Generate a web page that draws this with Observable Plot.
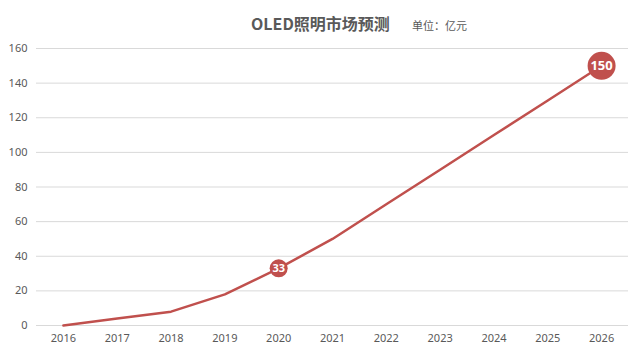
<!DOCTYPE html>
<html><head><meta charset="utf-8">
<script src="https://cdn.jsdelivr.net/npm/d3@7"></script>
<script src="https://cdn.jsdelivr.net/npm/@observablehq/plot@0.6"></script>
<style>
body{margin:0;background:#fff;font-family:"Noto Sans CJK SC","Noto Sans",sans-serif;}
#wrap{position:relative;width:640px;height:354px;}
#title{position:absolute;left:251px;top:11px;font-size:16px;font-weight:bold;color:#595959;white-space:nowrap;line-height:24px;}
#unit{position:absolute;left:412px;top:16px;font-size:11px;color:#595959;white-space:nowrap;line-height:18px;}
#chart{position:absolute;left:0;top:38px;}
</style></head>
<body>
<div id="wrap">
<div id="title">OLED照明市场预测</div>
<div id="unit">单位：亿元</div>
<div id="chart"></div>
</div>
<script>
const years = ["2016","2017","2018","2019","2020","2021","2022","2023","2024","2025","2026"];
const values = [0, 4, 8, 18, 33, 50, 70, 90, 110, 130, 150];
const labeledYears = ["2020", "2026"];
const labelRadius = [9, 14];
const yTicks = [0, 20, 40, 60, 80, 100, 120, 140, 160];

const data = years.map((y, i) => ({year: y, value: values[i]}));
const labeled = labeledYears.map((y, i) => ({year: y, value: values[years.indexOf(y)], r: labelRadius[i]}));

const chart = Plot.plot({
  width: 640,
  height: 316,
  marginTop: 10,
  marginBottom: 29,
  marginLeft: 36,
  marginRight: 12,
  style: {fontFamily: "'Noto Sans', sans-serif", fontSize: "11px", color: "#595959", background: "transparent"},
  x: {type: "point", domain: years, padding: 0.5, round: false, label: null},
  y: {domain: [0, 160], ticks: yTicks, label: null},
  marks: [
    Plot.gridY(yTicks, {stroke: "#d9d9d9", strokeOpacity: 1, strokeWidth: 1}),
    Plot.axisY(yTicks, {tickSize: 0, tickPadding: 9, fill: "#595959", label: null}),
    Plot.axisX({tickSize: 0, tickPadding: 9, fill: "#595959", label: null}),
    Plot.line(data, {x: "year", y: "value", stroke: "#C0504D", strokeWidth: 2.5}),
    Plot.dot(labeled, {x: "year", y: "value", r: "r", fill: "#C0504D", stroke: "none"}),
    Plot.text(labeled, {x: "year", y: "value", text: d => String(d.value), fill: "white", fontWeight: "bold", fontSize: d => d.r > 10 ? 13 : 11})
  ],
  r: {type: "identity"}
});
document.getElementById("chart").appendChild(chart);
</script>
</body></html>
